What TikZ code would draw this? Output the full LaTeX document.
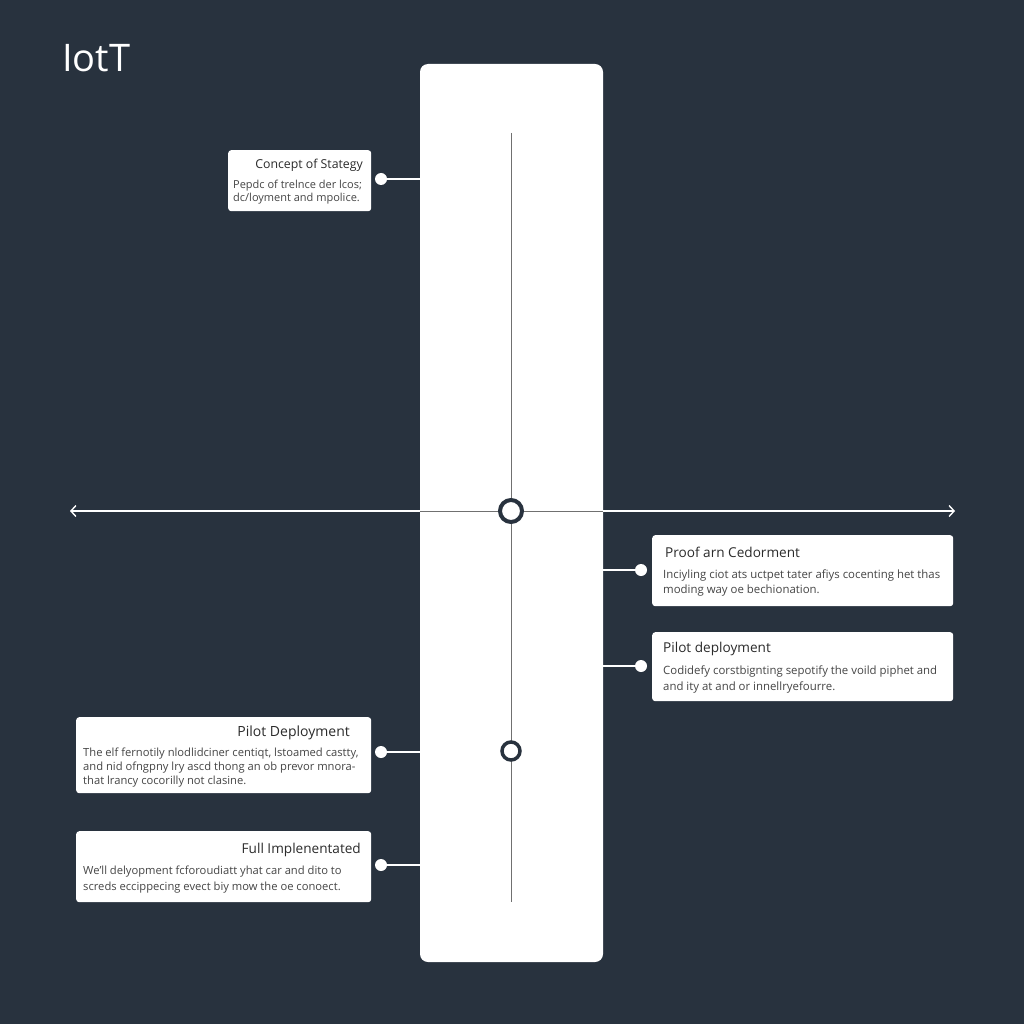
\documentclass[tikz,border=0pt]{standalone}
\usepackage{fontspec}
\setmainfont{Open Sans}
\usetikzlibrary{arrows.meta}
\definecolor{bgdark}{HTML}{28323E}
\definecolor{railgray}{HTML}{707070}
\definecolor{inkdark}{HTML}{2B2B2B}
\definecolor{inkbody}{HTML}{454545}
\begin{document}
\begin{tikzpicture}[x=1pt,y=-1pt,
    cardbox/.style={fill=white, rounded corners=3pt, inner sep=0pt, anchor=north west},
    cardtitle/.style={text=inkdark, font=\fontsize{13.6}{15}\selectfont, inner sep=0pt},
    cardbody/.style={text=inkbody, font=\fontsize{11.4}{15.5}\selectfont, align=left, inner sep=0pt, anchor=north west},
    pin/.style={circle, fill=white, minimum size=12pt, inner sep=0pt},
    link/.style={white, line width=1.2pt},
    ring/.style={circle, draw=bgdark, fill=white, inner sep=0pt}]
    \useasboundingbox (0,0) rectangle (1024,1024);
    \fill[bgdark] (0,0) rectangle (1024,1024);

    % heading
    \node[text=white, font=\fontsize{38}{42}\selectfont, anchor=base west, inner sep=0pt] (head) at (62,72) {IotT};

    % white panel and rails
    \node[fill=white, rounded corners=8pt, minimum width=183pt, minimum height=898pt, inner sep=0pt] (pnl) at (511.5,513) {};
    \coordinate (railtop) at (511,133);
    \coordinate (railbot) at (511,902);
    \draw[railgray, line width=1pt] (railtop) -- (railbot);

    \coordinate (axL) at (70,511);
    \coordinate (axR) at (955,511);
    \draw[white, line width=1.2pt, {Straight Barb[length=5pt,width=11pt,line width=1.4pt]}-{Straight Barb[length=5pt,width=11pt,line width=1.4pt]}] (axL) -- (axR);
    \draw[railgray, line width=1pt] (pnl.west |- axL) -- (pnl.east |- axL);

    \node[ring, minimum size=22pt, line width=4pt] (hub) at (511,511) {};
    \node[ring, minimum size=18pt, line width=3.5pt] (mark) at (511,751) {};

    % cards on the left
    \node[cardbox, minimum width=143pt, minimum height=61pt] (c1) at (228,150) {};
    \node[cardtitle, font=\fontsize{12.3}{14}\selectfont, anchor=east] (t1) at (363,165) {Concept of Stategy};
    \node[cardbody, font=\fontsize{11}{13.2}\selectfont] (b1) at (233,179.5) {Pepdc of trelnce der lcos;\\dc/loyment and mpolice.};
    \node[pin] (d1) at (381,179) {};
    \draw[link] (d1) -- (d1 -| pnl.west);

    \node[cardbox, minimum width=295pt, minimum height=76pt] (c4) at (76,717) {};
    \node[cardtitle, font=\fontsize{14}{15}\selectfont, anchor=east] (t4) at (350,733) {Pilot Deployment};
    \node[cardbody, font=\fontsize{11.2}{14}\selectfont] (b4) at (83,747.5) {The elf fernotily nlodlidciner centiqt, lstoamed castty,\\and nid ofngpny lry ascd thong an ob prevor mnora-\\that lrancy cocorilly not clasine.};
    \node[pin] (d4) at (381,752) {};
    \draw[link] (d4) -- (d4 -| pnl.west);

    \node[cardbox, minimum width=295pt, minimum height=71pt] (c5) at (76,831) {};
    \node[cardtitle, anchor=east] (t5) at (361,850) {Full Implenentated};
    \node[cardbody, font=\fontsize{11.2}{16}\selectfont] (b5) at (83,865.5) {We'll delyopment fcforoudiatt yhat car and dito to\\screds eccippecing evect biy mow the oe conoect.};
    \node[pin] (d5) at (381,865) {};
    \draw[link] (d5) -- (d5 -| pnl.west);

    % cards on the right
    \node[cardbox, minimum width=301pt, minimum height=71pt] (c2) at (652,535) {};
    \node[cardtitle, anchor=west] (t2) at (665,552) {Proof arn Cedorment};
    \node[cardbody] (b2) at (663,569.5) {Inciyling ciot ats uctpet tater afiys cocenting het thas\\moding way oe bechionation.};
    \node[pin] (d2) at (641,570) {};
    \draw[link] (d2) -- (d2 -| pnl.east);

    \node[cardbox, minimum width=301pt, minimum height=69pt] (c3) at (652,632) {};
    \node[cardtitle, anchor=west] (t3) at (663,649) {Pilot deployment};
    \node[cardbody, font=\fontsize{11.4}{16}\selectfont] (b3) at (663,665.5) {Codidefy corstbignting sepotify the voild piphet and\\and ity at and or innellryefourre.};
    \node[pin] (d3) at (641,666) {};
    \draw[link] (d3) -- (d3 -| pnl.east);
\end{tikzpicture}
\end{document}
